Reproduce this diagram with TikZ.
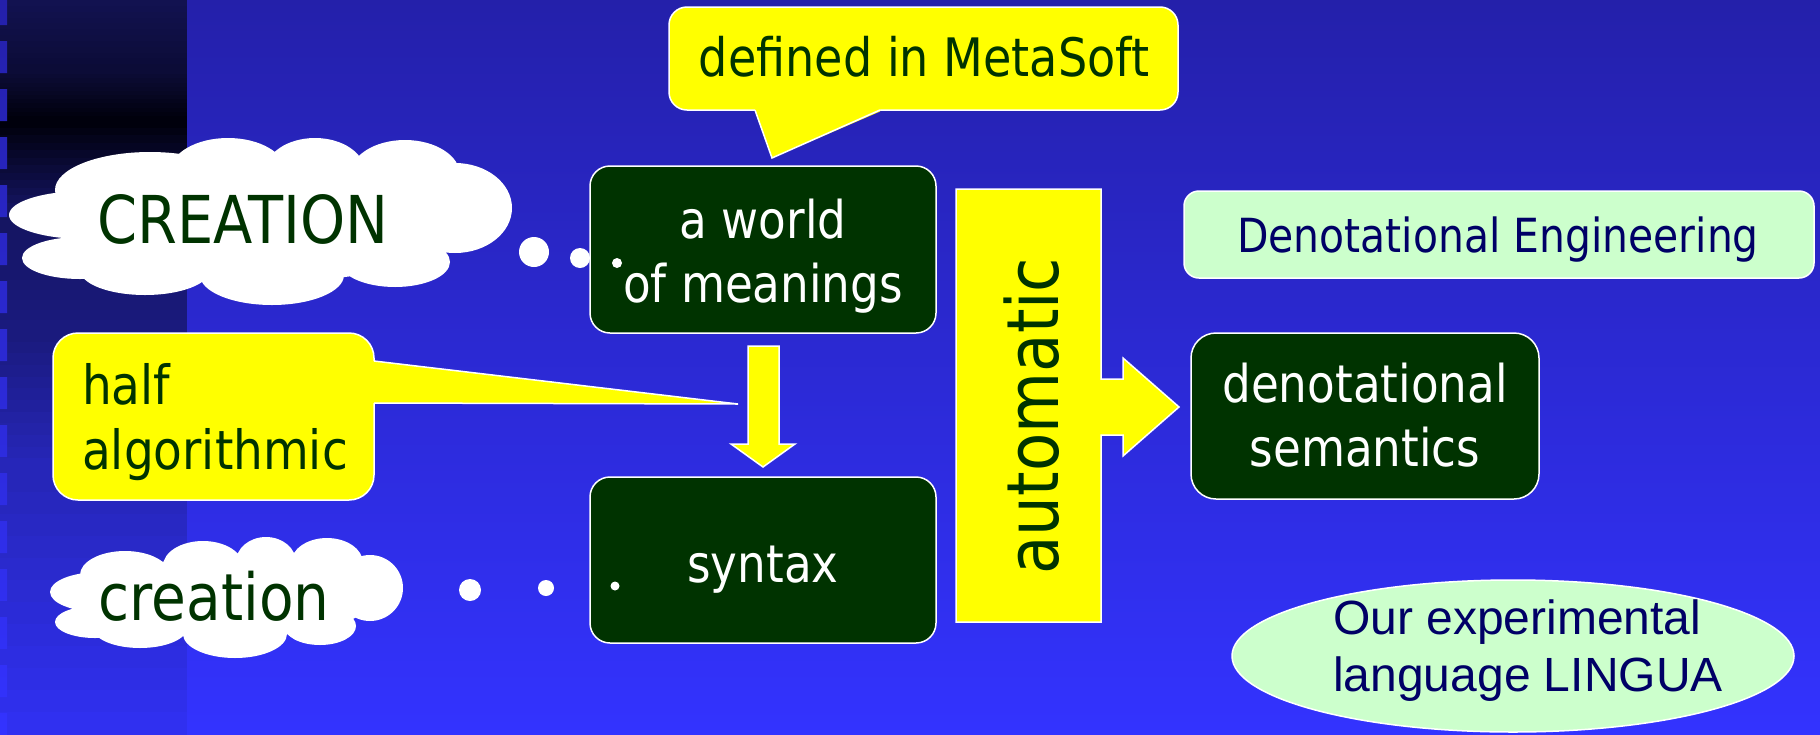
\documentclass[tikz,border=0pt]{standalone}
\usepackage{fontspec}
\usetikzlibrary{shapes.geometric}
\setmainfont{DejaVu Sans}[FakeStretch=0.87]
\newfontfamily\arialf{Liberation Sans}
\definecolor{bgtop}{RGB}{36,32,170}
\definecolor{bgbot}{RGB}{51,51,255}
\definecolor{dgreen}{RGB}{0,51,0}
\definecolor{lgreen}{RGB}{204,255,204}
\definecolor{navy}{RGB}{0,0,102}
\definecolor{yel}{RGB}{255,255,0}
\definecolor{bandA}{RGB}{18,18,80}
\definecolor{bandB}{RGB}{12,12,55}
\definecolor{bandC}{RGB}{0,0,12}
\definecolor{bandD}{RGB}{20,20,95}
\definecolor{bandE}{RGB}{26,26,125}
\definecolor{bandF}{RGB}{38,38,185}
\definecolor{bandG}{RGB}{48,48,240}
\newcommand\bandseg[4]{%
  \foreach \i in {0,...,11}{%
    \pgfmathsetmacro\ya{#1+(#2-#1)*\i/12}%
    \pgfmathsetmacro\yb{#1+(#2-#1)*(\i+1)/12+0.6}%
    \pgfmathtruncatemacro\pc{100*\i/11}%
    \fill[#4!\pc!#3] (0,\ya) rectangle (187,\yb);}}
\tikzset{
  outl/.style={draw=white, line width=1.5pt},
  yelshape/.style={fill=yel, outl},
  darkbox/.style={fill=dgreen, outl, rounded corners=20pt, inner sep=0pt},
  lightbox/.style={fill=lgreen, outl, rounded corners=15pt, inner sep=0pt},
  dot/.style={fill=white},
  wtxt/.style={text=white, inner sep=0pt, font=\fontsize{52}{64}\selectfont},
  gtxt/.style={text=dgreen, inner sep=0pt},
}
\begin{document}
\begin{tikzpicture}[x=1pt,y=-1pt]
\useasboundingbox (0,0) rectangle (1820,734);
% background
\shade[top color=bgtop, bottom color=bgbot] (0,0) rectangle (1820,734);
% left band
\bandseg{0}{70}{bandA}{bandB}
\bandseg{70}{120}{bandB}{bandC}
\bandseg{120}{210}{bandC}{bandD}
\bandseg{210}{330}{bandD}{bandE}
\bandseg{330}{470}{bandE}{bandF}
\bandseg{470}{734}{bandF}{bandG}
\begin{scope}
  \clip foreach \k in {0,...,15} {(0,{-7+48*\k}) rectangle (7,{25+48*\k})};
  \shade[top color=bgtop, bottom color=bgbot] (0,0) rectangle (1820,734);
\end{scope}
% CREATION cloud
\fill[white] (85,215) ellipse [x radius=76, y radius=24]
  (80,258) ellipse [x radius=58, y radius=21]
  (150,190) ellipse [x radius=95, y radius=38]
  (228,172) ellipse [x radius=58, y radius=34]
  (315,172) ellipse [x radius=50, y radius=34]
  (405,175) ellipse [x radius=55, y radius=35]
  (455,208) ellipse [x radius=57, y radius=45]
  (395,262) ellipse [x radius=55, y radius=25]
  (272,275) ellipse [x radius=72, y radius=30]
  (145,270) ellipse [x radius=65, y radius=25]
  (265,222) ellipse [x radius=200, y radius=60];
% creation cloud
\fill[white] (100,592) ellipse [x radius=50, y radius=20]
  (95,622) ellipse [x radius=40, y radius=16]
  (125,575) ellipse [x radius=45, y radius=24]
  (203,566) ellipse [x radius=40, y radius=25]
  (266,562) ellipse [x radius=30, y radius=25]
  (327,563) ellipse [x radius=36, y radius=25]
  (370,588) ellipse [x radius=33, y radius=33]
  (140,628) ellipse [x radius=47, y radius=20]
  (235,634) ellipse [x radius=52, y radius=24]
  (320,626) ellipse [x radius=36, y radius=19]
  (225,598) ellipse [x radius=150, y radius=40];
% thought dots
\fill[dot] (534,252) circle [radius=15];
\fill[dot] (580,258) circle [radius=10];
\fill[dot] (470,590) circle [radius=11];
\fill[dot] (546,588) circle [radius=8];
% MetaSoft callout
\draw[yelshape, rounded corners=18pt] (669,7) rectangle (1178,110);
\fill[yel] (755,104) -- (880,104) -- (880,111.5) -- (772,158) -- (755,111.5) -- cycle;
\draw[white, line width=1.5pt, line join=miter] (755,110) -- (772,158) -- (880,110);
% half algorithmic callout
\draw[yelshape, rounded corners=25pt] (53,333) rectangle (374,500);
\fill[yel] (366,361) -- (375,361) -- (738,404) -- (375,403) -- (366,403) -- cycle;
\draw[white, line width=1.5pt] (374,361) -- (738,404) -- (374,403);
% dark boxes
\node[darkbox, minimum width=346pt, minimum height=167pt] (world) at (763,249.5) {};
\node[darkbox, minimum width=346pt, minimum height=166pt] (syntax) at (763,560) {};
\node[darkbox, rounded corners=25pt, minimum width=348pt, minimum height=166pt] (denot) at (1365,416) {};
\fill[dot] (617,263) circle [radius=5];
\fill[dot] (615,586) circle [radius=4.5];
% yellow arrows
\draw[yelshape, line join=miter] (748,346) -- (779,346) -- (779,444) -- (795,444) -- (763,467) -- (731,444) -- (748,444) -- cycle;
\draw[yelshape, line join=miter] (956,189) -- (1101,189) -- (1101,379) -- (1123,379) -- (1123,358) -- (1179,407) -- (1123,456) -- (1123,435) -- (1101,435) -- (1101,622) -- (956,622) -- cycle;
% light boxes
\node[lightbox, minimum width=630pt, minimum height=87pt] (deng) at (1499,234.5) {};
\node[fill=lgreen, outl, ellipse, minimum width=562pt, minimum height=152pt, inner sep=0pt] (lingua) at (1513,656) {};
% texts
\node[gtxt, anchor=base, font=\fontsize{66}{70}\selectfont] (tCREATION) at (243,243) {CREATION};
\node[gtxt, anchor=base, font=\fontsize{65}{70}\selectfont] (tcreation) at (214,620) {creation};
\node[gtxt, anchor=base, font=\fontsize{53}{60}\selectfont] (tmeta) at (924,76) {defined in MetaSoft};
\node[gtxt, anchor=west, align=left, font=\fontsize{54}{65}\selectfont] (thalf) at (82,421.6) {half\\algorithmic};
\node[wtxt, align=center] (tworld) at (763,256) {a world\\of meanings};
\node[wtxt, anchor=base] (tsyntax) at (763,582) {syntax};
\node[wtxt, align=center] (tdenot) at (1365,415) {denotational\\semantics};
\node[gtxt, rotate=90, anchor=base, font=\fontsize{72}{80}\selectfont] (tauto) at (1058,416) {automatic};
\node[text=navy, inner sep=0pt, anchor=base, font=\fontsize{47}{55}\selectfont] (tdeng) at (1498,252) {Denotational Engineering};
\node[text=navy, inner sep=0pt, anchor=west, align=left, font=\arialf\fontsize{48}{57}\selectfont] (tlingua) at (1333,651) {Our experimental\\language LINGUA};
\end{tikzpicture}
\end{document}
